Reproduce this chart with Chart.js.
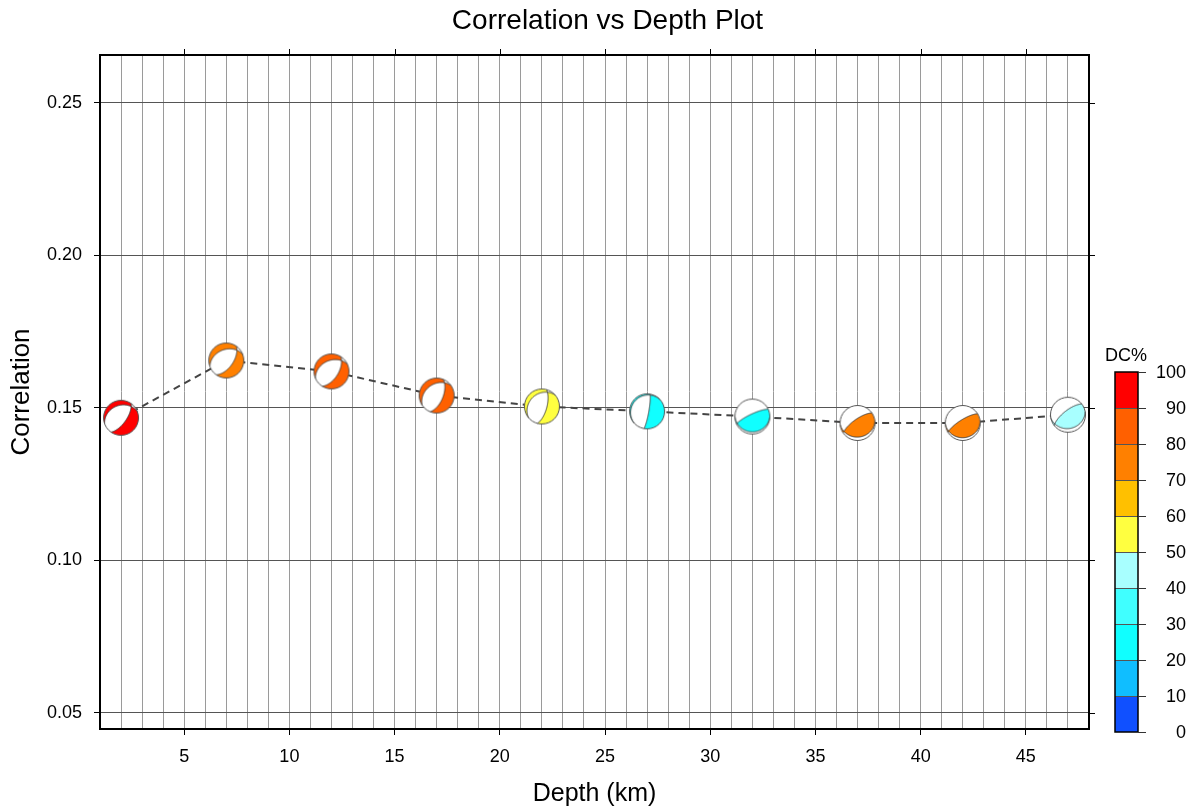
<!DOCTYPE html>
<html>
<head>
<meta charset="utf-8">
<script src="https://cdn.jsdelivr.net/npm/chart.js@4"></script>
<style>
  body { margin: 0; background: #fff; }
  canvas { display: block; }
</style>
</head>
<body>
<canvas id="depthChart" width="1187" height="810"></canvas>
<script>
// values
const depths = [2, 7, 12, 17, 22, 27, 32, 37, 42, 47];
const correlation = [0.1467, 0.1655, 0.1619, 0.1540, 0.1504, 0.1488, 0.1471, 0.1450, 0.1450, 0.1477];
const dcPercent = [95, 75, 85, 85, 55, 25, 25, 75, 75, 45];
// focal mechanisms (strike / dip / rake), estimated from the beachballs
const strike = [35, 35, 32, 22, 15, 10, 245, 235, 238, 232];
const dip = [65, 58, 58, 60, 67, 82, 78, 72, 75, 70];
const rake = [-106, -110, -110, -108, -105, -96, 84, 80, 82, 80];

const yTicks = [0.05, 0.10, 0.15, 0.20, 0.25];
const dcTicks = [0, 10, 20, 30, 40, 50, 60, 70, 80, 90, 100];
const dcColors = ['#1050ff', '#10beff', '#10ffff', '#40ffff', '#a8ffff',
                  '#ffff40', '#ffc000', '#ff8000', '#ff6000', '#ff0000'];

const FONT = '"Liberation Sans", Arial, Helvetica, sans-serif';

function hexToRgb(h) {
  return [parseInt(h.substr(1, 2), 16), parseInt(h.substr(3, 2), 16), parseInt(h.substr(5, 2), 16)];
}
function dot(a, b) { return a[0] * b[0] + a[1] * b[1] + a[2] * b[2]; }
function cross(a, b) {
  return [a[1] * b[2] - a[2] * b[1], a[2] * b[0] - a[0] * b[2], a[0] * b[1] - a[1] * b[0]];
}

function dcColor(dc) {
  return dcColors[Math.min(dcColors.length - 1, Math.floor(dc / 10))];
}

// lower hemisphere, equal area beachball drawn into a small canvas
function makeBall(strk, dp, rk, color) {
  const R = 17.5, S = 40, c = S / 2;
  const cv = document.createElement('canvas');
  cv.width = S; cv.height = S;
  const g = cv.getContext('2d');
  const r = Math.PI / 180;
  const f = strk * r, d = dp * r, l = rk * r;
  const n = [-Math.sin(d) * Math.sin(f), Math.sin(d) * Math.cos(f), -Math.cos(d)];
  const u = [Math.cos(l) * Math.cos(f) + Math.cos(d) * Math.sin(l) * Math.sin(f),
             Math.cos(l) * Math.sin(f) - Math.cos(d) * Math.sin(l) * Math.cos(f),
             -Math.sin(l) * Math.sin(d)];
  const rgb = hexToRgb(color);
  const img = g.createImageData(S, S);
  for (let j = 0; j < S; j++) {
    for (let i = 0; i < S; i++) {
      let cin = 0, win = 0;
      for (let a = 0; a < 4; a++) {
        for (let b = 0; b < 4; b++) {
          const dx = i + (a + 0.5) / 4 - c, dy = j + (b + 0.5) / 4 - c;
          const p2 = (dx * dx + dy * dy) / (R * R);
          if (p2 > 1) continue;
          const q = Math.sqrt(2 - p2);
          const x = [-dy / R * q, dx / R * q, 1 - p2];
          if (dot(x, n) * dot(x, u) > 0) cin++; else win++;
        }
      }
      const tot = cin + win;
      if (!tot) continue;
      const k = (j * S + i) * 4;
      img.data[k] = (cin * rgb[0] + win * 255) / tot;
      img.data[k + 1] = (cin * rgb[1] + win * 255) / tot;
      img.data[k + 2] = (cin * rgb[2] + win * 255) / tot;
      img.data[k + 3] = tot / 16 * 255;
    }
  }
  g.putImageData(img, 0, 0);

  // nodal planes
  g.strokeStyle = '#333';
  g.lineWidth = 0.9;
  [n, u].forEach(v => {
    let a = [-v[1], v[0], 0];
    const la = Math.hypot(a[0], a[1]);
    a = la < 1e-6 ? [1, 0, 0] : [a[0] / la, a[1] / la, 0];
    let b = cross(v, a);
    if (b[2] < 0) b = [-b[0], -b[1], -b[2]];
    g.beginPath();
    for (let s = 0; s <= 90; s++) {
      const t = Math.PI * s / 90;
      const x = [Math.cos(t) * a[0] + Math.sin(t) * b[0],
                 Math.cos(t) * a[1] + Math.sin(t) * b[1],
                 Math.cos(t) * a[2] + Math.sin(t) * b[2]];
      const k = Math.sqrt(1 + x[2]);
      const px = c + R * x[1] / k, py = c - R * x[0] / k;
      if (s === 0) g.moveTo(px, py); else g.lineTo(px, py);
    }
    g.stroke();
  });

  g.beginPath();
  g.arc(c, c, R, 0, Math.PI * 2);
  g.strokeStyle = '#555';
  g.lineWidth = 1;
  g.stroke();
  return cv;
}

const balls = depths.map((_, i) => makeBall(strike[i], dip[i], rake[i], dcColor(dcPercent[i])));

const extras = {
  id: 'extras',
  afterDraw(chart) {
    const ctx = chart.ctx;
    const a = chart.chartArea;
    const xs = chart.scales.x, ys = chart.scales.y;
    ctx.save();

    // top and right frame with mirrored ticks
    ctx.strokeStyle = '#000';
    ctx.lineWidth = 2;
    ctx.beginPath();
    ctx.moveTo(a.left, a.top);
    ctx.lineTo(a.right, a.top);
    ctx.lineTo(a.right, a.bottom);
    ctx.stroke();
    ctx.lineWidth = 1;
    ctx.beginPath();
    ys.ticks.forEach(t => {
      const y = Math.round(ys.getPixelForValue(t.value)) + 0.5;
      ctx.moveTo(a.right, y);
      ctx.lineTo(a.right + 6, y);
    });
    xs.ticks.forEach(t => {
      if (t.value % 5 !== 0) return;
      const x = Math.round(xs.getPixelForValue(t.value)) + 0.5;
      ctx.moveTo(x, a.top);
      ctx.lineTo(x, a.top - 6);
    });
    ctx.stroke();

    // title
    ctx.fillStyle = '#000';
    ctx.font = '28px ' + FONT;
    ctx.textAlign = 'center';
    ctx.textBaseline = 'middle';
    ctx.fillText('Correlation vs Depth Plot', (a.left + a.right) / 2 + 13, 21);

    // DC% colour bar
    const bx = 1115, bw = 23, by = 372, bh = 360;
    const step = bh / dcColors.length;
    dcColors.forEach((col, i) => {
      ctx.fillStyle = col;
      ctx.fillRect(bx, by + bh - (i + 1) * step, bw, step);
    });
    ctx.strokeStyle = '#555';
    ctx.lineWidth = 1;
    ctx.beginPath();
    for (let i = 1; i < dcColors.length; i++) {
      const y = Math.round(by + i * step) + 0.5;
      ctx.moveTo(bx, y);
      ctx.lineTo(bx + bw, y);
    }
    ctx.stroke();
    ctx.strokeStyle = '#000';
    ctx.lineWidth = 1.5;
    ctx.strokeRect(bx, by, bw, bh);
    ctx.lineWidth = 1;
    ctx.strokeStyle = '#333';
    ctx.beginPath();
    ctx.fillStyle = '#000';
    ctx.font = '18px ' + FONT;
    ctx.textAlign = 'right';
    dcTicks.forEach((v, i) => {
      const y = Math.round(by + bh - i * step) + 0.5;
      ctx.moveTo(bx + bw, y);
      ctx.lineTo(bx + bw + 8, y);
      ctx.fillText(String(v), 1186, y + 1);
    });
    ctx.stroke();
    ctx.textAlign = 'center';
    ctx.fillText('DC%', bx + 11, 356);
    ctx.restore();
  }
};

Chart.defaults.color = '#000';
Chart.defaults.font.family = FONT;

new Chart(document.getElementById('depthChart'), {
  type: 'line',
  data: {
    datasets: [{
      data: depths.map((d, i) => ({ x: d, y: correlation[i] })),
      borderColor: '#444',
      borderWidth: 2,
      borderDash: [7, 5],
      tension: 0,
      fill: false,
      pointStyle: balls,
      pointRadius: 18,
      pointHoverRadius: 18
    }]
  },
  options: {
    responsive: false,
    animation: false,
    devicePixelRatio: 1,
    events: [],
    layout: { padding: { left: 0, right: 98, top: 55, bottom: 0 } },
    plugins: {
      legend: { display: false },
      tooltip: { enabled: false }
    },
    scales: {
      x: {
        type: 'linear',
        min: 1,
        max: 48,
        afterFit: s => { s.height = 81; },
        ticks: {
          stepSize: 1,
          autoSkip: false,
          maxRotation: 0,
          padding: 11,
          font: { size: 18 },
          callback: v => (v % 5 === 0 ? String(v) : '')
        },
        grid: {
          color: '#9a9a9a',
          lineWidth: 1,
          tickLength: 6,
          tickColor: c => (c.tick && c.tick.value % 5 === 0 ? '#000' : 'rgba(0,0,0,0)')
        },
        border: { display: true, color: '#000', width: 2 },
        title: {
          display: true,
          text: 'Depth (km)',
          font: { size: 25 },
          padding: { top: 0, bottom: 1 }
        }
      },
      y: {
        type: 'linear',
        min: 0.0446,
        max: 0.2657,
        afterFit: s => { s.width = 100; },
        afterBuildTicks: s => { s.ticks = yTicks.map(v => ({ value: v })); },
        ticks: {
          padding: 12,
          font: { size: 18 },
          callback: v => v.toFixed(2)
        },
        grid: {
          color: '#555',
          lineWidth: 1,
          tickLength: 6,
          tickColor: '#000'
        },
        border: { display: true, color: '#000', width: 2 },
        title: {
          display: true,
          text: 'Correlation',
          font: { size: 26 },
          padding: { top: 6, bottom: 0 }
        }
      }
    }
  },
  plugins: [extras]
});
</script>
</body>
</html>
